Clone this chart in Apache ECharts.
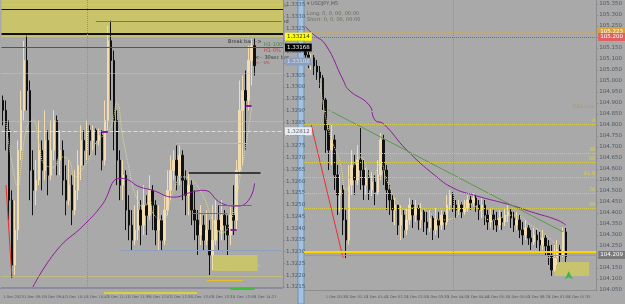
<!DOCTYPE html>
<html>
<head>
<meta charset="utf-8">
<script src="https://cdn.jsdelivr.net/npm/echarts@6/dist/echarts.min.js"></script>
<style>
html, body { margin: 0; padding: 0; background: #a9a9a9; }
#chart { width: 625px; height: 304px; }
</style>
</head>
<body>
<div id="chart"></div>
<script>
// ---- left panel: EURUSD M1 ----
var leftClose = [1.32901,1.32816,1.32519,1.32243,1.32392,1.32731,1.32901,1.33113,1.32985,1.32646,
  1.32561,1.32604,1.32731,1.32646,1.32773,1.32625,1.32731,1.32858,1.32689,1.32731,
  1.32604,1.32519,1.32583,1.32477,1.32561,1.32667,1.32773,1.32731,1.32816,1.32773,
  1.32816,1.32773,1.32795,1.32689,1.32858,1.33197,1.33113,1.32858,1.32689,1.32583,
  1.32625,1.32477,1.32413,1.32349,1.32392,1.32477,1.32413,1.32498,1.32455,1.32561,
  1.32498,1.32392,1.32434,1.32349,1.32477,1.32561,1.32646,1.32689,1.32625,1.32710,
  1.32604,1.32540,1.32583,1.32477,1.32434,1.32371,1.32413,1.32349,1.32392,1.32286,
  1.32349,1.32434,1.32392,1.32455,1.32413,1.32371,1.32455,1.32434,1.32646,1.32901,
  1.32985,1.32943,1.33113,1.33176,1.33091];
var leftHigh = [1.32964,1.32943,1.32858,1.32561,1.32519,1.32773,1.32985,1.33197,1.33219,1.33028,
  1.32731,1.32689,1.32858,1.32773,1.32901,1.32816,1.32858,1.32901,1.32879,1.32816,
  1.32773,1.32667,1.32689,1.32625,1.32646,1.32731,1.32837,1.32816,1.32858,1.32837,
  1.32837,1.32824,1.32824,1.32816,1.32943,1.33261,1.33282,1.33155,1.32901,1.32731,
  1.32689,1.32646,1.32540,1.32477,1.32498,1.32561,1.32519,1.32583,1.32540,1.32625,
  1.32583,1.32519,1.32498,1.32455,1.32540,1.32646,1.32710,1.32731,1.32752,1.32752,
  1.32731,1.32646,1.32638,1.32604,1.32561,1.32477,1.32498,1.32455,1.32477,1.32434,
  1.32498,1.32519,1.32498,1.32519,1.32477,1.32455,1.32498,1.32583,1.32689,1.33028,
  1.33049,1.33070,1.33176,1.33206,1.33206];
var leftLow = [1.32837,1.32731,1.32434,1.32188,1.32201,1.32349,1.32689,1.32858,1.32901,1.32519,
  1.32455,1.32498,1.32583,1.32561,1.32604,1.32540,1.32604,1.32689,1.32625,1.32625,
  1.32540,1.32455,1.32498,1.32413,1.32455,1.32519,1.32604,1.32667,1.32689,1.32710,
  1.32731,1.32710,1.32752,1.32646,1.32667,1.32816,1.32943,1.32731,1.32583,1.32519,
  1.32519,1.32392,1.32349,1.32307,1.32328,1.32349,1.32328,1.32371,1.32371,1.32434,
  1.32392,1.32328,1.32307,1.32307,1.32328,1.32455,1.32519,1.32604,1.32561,1.32583,
  1.32519,1.32455,1.32455,1.32413,1.32349,1.32286,1.32328,1.32307,1.32328,1.32201,
  1.32222,1.32328,1.32307,1.32349,1.32349,1.32286,1.32328,1.32371,1.32392,1.32625,
  1.32667,1.32731,1.32901,1.33007,1.33049];
var leftFirstOpen = 1.32943;
// moving averages, [bar index, price]
var leftMA = [[10,1.32150],[18,1.32307],[27,1.32413],[33,1.32498],[39,1.32612],[42,1.32604],
  [45,1.32579],[50,1.32561],[57,1.32532],[63,1.32553],[67,1.32561],[73,1.32506],
  [78,1.32494],[82,1.32519],[84,1.32591]];
var leftFastMA = [[1,1.32847],[3,1.32677],[5,1.32575],[6,1.32660],[8,1.32830],[10,1.32860],
  [12,1.32762],[14,1.32669],[17,1.32660],[19,1.32703],[22,1.32690],[24,1.32618],[27,1.32660],
  [29,1.32703],[31,1.32762],[33,1.32788],[36,1.32830],[38,1.32932],[40,1.32788],[42,1.32660],
  [44,1.32550],[47,1.32490],[49,1.32520],[50,1.32465],[53,1.32435],[57,1.32562],[60,1.32618],
  [63,1.32605],[67,1.32533],[70,1.32435],[73,1.32380],[77,1.32465],[79,1.32605],[81,1.32745],[83,1.32915]];
var leftRedTrend = [[1,1.32583],[3,1.32188]];
var leftTicks = ['1 Dec 2023','1 Dec 09:19','1 Dec 09:47','1 Dec 10:15','1 Dec 10:43','1 Dec 11:11',
  '1 Dec 11:39','1 Dec 12:07','1 Dec 12:35','1 Dec 13:03','1 Dec 13:31','1 Dec 13:59','1 Dec 14:27','1 Dec 14:55'];
var leftBlackLevels = [1.33329, 1.33227];
var leftDottedLevels = [1.33354, 1.33057, 1.32854, 1.32197];
var leftYellowBoxLevel = 1.33214;
var leftGreyLevel = 1.33168;
var leftBlueMark = 1.33108;
var leftWhiteLevel = 1.32812;
var leftTopBox = [1.33218, 1.3337];
var leftBox = [70, 85, 1.32218, 1.32286];
var leftRedSegs = [[31, 93, 1.33278], [63, 75, 1.32464]];
var leftYellowSegs = [[58, 82, 1.32761], [75, 86, 1.32243], [68, 80, 1.32180]];
var leftBlackSeg = [62, 86, 1.32634];
var leftGreenSeg = [72, 83, 1.32498];
var leftBlueSeg = [39, 93, 1.32307];
var leftPurpleTicks = [[33, 35, 1.32812], [81, 83, 1.32922], [76, 78, 1.32392]];
var leftSessionBars = [[34, 65, 0.4], [76, 84, 1.7]];

// ---- right panel: USDJPY ----
var rightClose = [105.118,105.086,105.105,105.068,105.041,105.014,104.914,104.777,104.686,104.732,
  104.573,104.482,104.505,104.368,104.277,104.527,104.618,104.550,104.641,104.595,
  104.527,104.559,104.505,104.541,104.495,104.573,104.732,104.595,104.505,104.459,
  104.414,104.436,104.345,104.391,104.323,104.368,104.436,104.391,104.423,104.368,
  104.405,104.359,104.332,104.377,104.323,104.368,104.345,104.391,104.359,104.436,
  104.482,104.436,104.414,104.436,104.405,104.423,104.459,104.446,104.468,104.436,
  104.414,104.436,104.391,104.359,104.391,104.368,104.345,104.377,104.359,104.391,
  104.405,104.377,104.345,104.368,104.323,104.300,104.332,104.286,104.268,104.300,
  104.277,104.255,104.286,104.250,104.209,104.141,104.195,104.232,104.209,104.314,104.195];
var rightHigh = [105.141,105.132,105.123,105.118,105.095,105.068,105.027,104.923,104.800,104.800,
  104.755,104.618,104.573,104.527,104.414,104.618,104.686,104.664,104.709,104.786,
  104.641,104.605,104.595,104.586,104.573,104.641,104.764,104.755,104.618,104.527,
  104.482,104.468,104.436,104.436,104.414,104.423,104.468,104.459,104.459,104.436,
  104.446,104.414,104.405,104.414,104.391,104.423,104.405,104.414,104.405,104.482,
  104.505,104.495,104.459,104.459,104.450,104.459,104.482,104.477,104.491,104.482,
  104.459,104.468,104.459,104.414,104.423,104.414,104.405,104.414,104.405,104.423,
  104.436,104.423,104.405,104.405,104.391,104.359,104.368,104.345,104.323,104.332,
  104.323,104.314,104.323,104.300,104.277,104.255,104.255,104.277,104.255,104.336,104.332];
var rightLow = [105.086,105.059,105.050,105.027,105.005,104.968,104.868,104.673,104.595,104.618,
  104.505,104.391,104.405,104.300,104.195,104.255,104.482,104.482,104.527,104.505,
  104.459,104.482,104.459,104.477,104.436,104.482,104.550,104.527,104.414,104.391,
  104.359,104.345,104.300,104.277,104.286,104.300,104.345,104.332,104.359,104.323,
  104.332,104.314,104.300,104.314,104.277,104.300,104.286,104.323,104.323,104.345,
  104.414,104.405,104.377,104.391,104.377,104.391,104.405,104.414,104.432,104.405,
  104.368,104.377,104.345,104.323,104.332,104.323,104.314,104.323,104.323,104.341,
  104.359,104.332,104.314,104.323,104.286,104.255,104.277,104.255,104.232,104.255,
  104.241,104.223,104.232,104.209,104.164,104.114,104.132,104.164,104.177,104.195,104.177];
var rightFirstOpen = 105.132;
var rightMA = [[0,105.246],[3,105.209],[7,105.164],[13,105.005],[15,104.959],[22,104.891],
  [24,104.823],[27,104.805],[35,104.686],[45,104.568],[51,104.514],[58,104.482],
  [72,104.432],[78,104.405],[87,104.368],[90,104.345]];
var rightFastMA = [[5,104.991],[8,104.777],[12,104.627],[14,104.505],[17,104.627],[19,104.654],
  [23,104.564],[26,104.627],[28,104.550],[32,104.445],[35,104.414],[38,104.427],[43,104.400],
  [46,104.368],[52,104.382],[54,104.445],[59,104.427],[64,104.368],[72,104.391],[78,104.345],
  [83,104.300],[87,104.255],[89,104.241]];
var rightGreenTrend = [[8,104.868],[89,104.314]];
var rightRedTrend = [[2,104.800],[13,104.195]];
var rightTicks = ['1 Dec 2023','1 Dec 00:35','1 Dec 01:10','1 Dec 01:45','1 Dec 02:20','1 Dec 02:55',
  '1 Dec 03:30','1 Dec 04:05','1 Dec 04:40','1 Dec 05:15','1 Dec 05:50','1 Dec 06:25','1 Dec 07:00',
  '1 Dec 07:35','1 Dec 08:10'];
var rightTanLevels = [105.223, 104.864];
var rightRedLevel = 105.200;
var rightFibLevels = [104.805, 104.673, 104.632, 104.564, 104.491, 104.423];
var rightFibNames = ['0', '38', '50', '61.8', '76', '88'];
var rightGoldLevel = 104.223;
var rightPinkLevel = 104.209;
var rightBox = [86, 98, 104.114, 104.177];
var rightArrow = [91, 104.135];

(function () {
    var chart = echarts.init(document.getElementById('chart'));
    var FONT = 'DejaVu Sans';
    var leftCats = [], rightCats = [];
    for (var i = 0; i < 94; i++) leftCats.push(String(i));
    for (var j = 0; j < 101; j++) rightCats.push(String(j));

    function ohlc(close, high, low, firstOpen) {
        return close.map(function (c, i) {
            return [i ? close[i - 1] : firstOpen, c, low[i], high[i]];
        });
    }
    function level(v, color, type, width, label) {
        var o = { yAxis: v, lineStyle: { color: color, type: type, width: width }, label: { show: false } };
        if (label) o.label = label;
        return o;
    }
    function seg(s, color, width, type) {
        return [{ coord: [s[0], s[2]], lineStyle: { color: color, width: width, type: type || 'solid' } },
                { coord: [s[1], s[2]] }];
    }
    function axisBox(bg, fg, digits) {
        return { show: true, position: 'end', distance: 2, backgroundColor: bg, color: fg,
                 fontSize: 5.5, fontFamily: FONT, padding: [1, 2],
                 formatter: function (p) { return p.value.toFixed(digits); } };
    }
    function candleStyle() {
        return { color: '#f2dcb0', color0: '#111111', borderColor: '#f2dcb0', borderColor0: '#111111', borderWidth: 1 };
    }
    function timeAxis(idx, ticks) {
        return {
            type: 'category', gridIndex: idx, data: idx === 0 ? leftCats : rightCats, boundaryGap: true,
            axisLine: { lineStyle: { color: '#8d8d8d' } }, axisTick: { show: false },
            axisLabel: { interval: 6, margin: idx === 0 ? 8 : 5, fontSize: 3.6, fontFamily: FONT, color: '#4e5866',
                align: 'left', hideOverlap: false,
                formatter: function (v, k) { return ticks[k / 7] || ''; } },
            splitLine: { show: false }
        };
    }
    function dottedLine(data, xi) {
        return { type: 'line', xAxisIndex: xi, yAxisIndex: xi, data: data, smooth: true, symbol: 'none', z: 4,
                 lineStyle: { color: '#e4dc8c', width: 1, type: 'dotted' } };
    }

    var leftMarkLines = [
        level(leftBlackLevels[0], '#111', 'solid', 1),
        level(leftBlackLevels[1], '#111', 'solid', 2),
        level(leftDottedLevels[0], '#d9cf55', 'dotted', 1),
        level(leftDottedLevels[1], '#d9cf55', 'dotted', 1),
        level(leftDottedLevels[2], '#d9cf55', 'dotted', 1),
        level(leftDottedLevels[3], '#d9cf55', 'dotted', 1),
        level(leftYellowBoxLevel, '#e8e050', 'dotted', 1, axisBox('#ffff00', '#333', 5)),
        level(leftGreyLevel, '#555', 'solid', 1, axisBox('#000', '#fff', 5)),
        level(leftBlueMark, 'rgba(0,0,0,0)', 'solid', 0, axisBox('#8aa0bc', '#dde', 5)),
        level(leftWhiteLevel, '#dcdcdc', 'dashed', 1, axisBox('#e8ecf2', '#667', 5)),
        seg(leftRedSegs[0], '#e0483c', 1),
        seg(leftRedSegs[1], '#e0483c', 1),
        seg(leftYellowSegs[0], '#e6c020', 1),
        seg(leftYellowSegs[1], '#e6c020', 1),
        seg(leftYellowSegs[2], '#e6c020', 1),
        seg(leftBlackSeg, '#3a3a3a', 2),
        seg(leftGreenSeg, '#2e9a3a', 1),
        seg(leftBlueSeg, '#8f9fc0', 1)
    ];
    leftPurpleTicks.forEach(function (p) { leftMarkLines.push(seg(p, '#8a1a96', 2)); });

    var rightMarkLines = [
        level(rightTanLevels[0], '#c8a86a', 'dashed', 1, axisBox('#d8a23c', '#fff', 3)),
        level(rightTanLevels[1], '#c8a86a', 'dashed', 1, { show: true, position: 'insideEndTop', distance: 2,
            formatter: 'D61 Low', color: '#b89850', fontSize: 5, fontFamily: FONT }),
        level(rightRedLevel, '#e04040', 'dotted', 1, axisBox('#e06060', '#fff', 3)),
        level(rightGoldLevel, '#ffd400', 'solid', 2),
        level(rightPinkLevel, '#d88080', 'solid', 1, axisBox('#7a7a7a', '#fff', 3)),
        level(rightPinkLevel - 0.01, '#c8a0a0', 'dotted', 1),
        { xAxis: 51, lineStyle: { color: '#909090', type: 'dotted', width: 1 }, label: { show: false } }
    ];
    rightFibLevels.forEach(function (v, k) {
        rightMarkLines.push(level(v, '#d6cc50', 'dotted', 1, { show: true, position: 'insideEndTop', distance: 1,
            formatter: rightFibNames[k], color: '#d8d050', fontSize: 5, fontFamily: FONT }));
    });

    var option = {
        animation: false,
        backgroundColor: '#a9a9a9',
        grid: [
            { left: 0, top: 0, width: 283, height: 287, show: false },
            { left: 304, top: 0, width: 304, height: 290, show: false },
            { left: 0, top: 288, width: 283, height: 6, show: false }
        ],
        xAxis: [
            timeAxis(0, leftTicks),
            timeAxis(1, rightTicks),
            { type: 'category', gridIndex: 2, data: leftCats, show: false, boundaryGap: true }
        ],
        yAxis: [
            { type: 'value', gridIndex: 0, position: 'right', min: 1.3215, max: 1.3337, interval: 0.0005,
              axisLine: { show: true, lineStyle: { color: '#8d8d8d' } }, axisTick: { show: true, length: 2, lineStyle: { color: '#8d8d8d' } },
              splitLine: { show: false },
              axisLabel: { showMaxLabel: false, margin: 3, fontSize: 5.5, fontFamily: FONT, color: '#4e5866',
                           formatter: function (v) { return v.toFixed(4); } } },
            { type: 'value', gridIndex: 1, position: 'right', min: 104.05, max: 105.368, interval: 0.05,
              axisLine: { show: true, lineStyle: { color: '#8d8d8d' } }, axisTick: { show: true, length: 2, lineStyle: { color: '#8d8d8d' } },
              splitLine: { show: false },
              axisLabel: { showMaxLabel: false, margin: 3, fontSize: 5.5, fontFamily: FONT, color: '#4e5866',
                           formatter: function (v) { return v.toFixed(3); } } },
            { type: 'value', gridIndex: 2, min: 0, max: 2, show: false }
        ],
        series: [
            {
                type: 'candlestick', xAxisIndex: 0, yAxisIndex: 0, barWidth: 2, z: 3,
                data: ohlc(leftClose, leftHigh, leftLow, leftFirstOpen),
                itemStyle: candleStyle(),
                markArea: { silent: true, precision: 5, data: [
                    [{ yAxis: leftTopBox[0], itemStyle: { color: '#c9c46c' } }, { yAxis: leftTopBox[1] }],
                    [{ coord: [leftBox[0], leftBox[2]], itemStyle: { color: 'rgba(222,214,70,0.6)' } }, { coord: [leftBox[1], leftBox[3]] }]
                ] },
                markLine: { silent: true, symbol: 'none', precision: 5, data: leftMarkLines.concat([
                    { xAxis: 28, lineStyle: { color: '#909090', type: 'dotted', width: 1 }, label: { show: false } }
                ]) }
            },
            dottedLine(leftFastMA, 0),
            { type: 'line', xAxisIndex: 0, yAxisIndex: 0, data: leftMA, smooth: true, symbol: 'none', z: 4,
              lineStyle: { color: '#8d1c9a', width: 1 } },
            { type: 'line', xAxisIndex: 0, yAxisIndex: 0, data: leftRedTrend, symbol: 'none', z: 4,
              lineStyle: { color: '#e8302c', width: 1 } },
            {
                type: 'candlestick', xAxisIndex: 1, yAxisIndex: 1, barWidth: 2, z: 3,
                data: ohlc(rightClose, rightHigh, rightLow, rightFirstOpen),
                itemStyle: candleStyle(),
                markArea: { silent: true, precision: 3, data: [
                    [{ coord: [rightBox[0], rightBox[2]], itemStyle: { color: 'rgba(222,214,70,0.6)' } }, { coord: [rightBox[1], rightBox[3]] }]
                ] },
                markLine: { silent: true, symbol: 'none', precision: 3, data: rightMarkLines },
                markPoint: { silent: true, precision: 3, data: [{ coord: rightArrow, symbol: 'arrow', symbolSize: [6, 8],
                    itemStyle: { color: '#3cb84a' }, label: { show: false } }] }
            },
            dottedLine(rightFastMA, 1),
            { type: 'line', xAxisIndex: 1, yAxisIndex: 1, data: rightMA, smooth: true, symbol: 'none', z: 4,
              lineStyle: { color: '#8d1c9a', width: 1 } },
            { type: 'line', xAxisIndex: 1, yAxisIndex: 1, data: rightGreenTrend, symbol: 'none', z: 4,
              lineStyle: { color: '#5a9a4a', width: 1 } },
            { type: 'line', xAxisIndex: 1, yAxisIndex: 1, data: rightRedTrend, symbol: 'none', z: 4,
              lineStyle: { color: '#e8302c', width: 1 } },
            { type: 'line', xAxisIndex: 2, yAxisIndex: 2, data: [], symbol: 'none',
              markLine: { silent: true, symbol: 'none', precision: 2, data: [
                  seg(leftSessionBars[0], '#d8d040', 2),
                  seg(leftSessionBars[1], '#3cc03c', 2)
              ] } }
        ],
        graphic: [
            { type: 'rect', shape: { x: 298, y: 0, width: 6, height: 304 }, style: { fill: '#a3c2e3', stroke: '#6f8fb0', lineWidth: 1 } },
            { type: 'line', shape: { x1: 0, y1: 288.5, x2: 283, y2: 288.5 }, style: { stroke: '#8d8d9d', lineWidth: 1 } },
            { type: 'text', x: 3, y: 1, style: { text: '\u25be EURUSD,M1', fontSize: 5, fontFamily: FONT, fill: '#5a5a5a' } },
            { type: 'text', x: 3, y: 10, style: { text: 'Long: 0, 0, 00, 00:00', fontSize: 5, fontFamily: FONT, fill: '#6a6a5a' } },
            { type: 'text', x: 3, y: 16, style: { text: 'Short: 0.0000, 0.000, 0.0.0.0:00', fontSize: 5, fontFamily: FONT, fill: '#6a6a5a' } },
            { type: 'text', x: 264, y: 3, style: { text: 'H1-100%', fontSize: 5, fontFamily: FONT, fill: '#3e8a3e' } },
            { type: 'text', x: 252, y: 19, style: { text: '<-- quick fixed', fontSize: 5, fontFamily: FONT, fill: '#333' } },
            { type: 'text', x: 202, y: 27, style: { text: 'very quick move at top -->', fontSize: 5, fontFamily: FONT, fill: '#222' } },
            { type: 'text', x: 228, y: 39, style: { text: 'Break bar -->', fontSize: 5, fontFamily: FONT, fill: '#333' } },
            { type: 'text', x: 264, y: 42, style: { text: 'H1-100%', fontSize: 5, fontFamily: FONT, fill: '#3e8a3e' } },
            { type: 'text', x: 264, y: 48, style: { text: 'H1-0%', fontSize: 5, fontFamily: FONT, fill: '#e03030' } },
            { type: 'text', x: 255, y: 55, style: { text: '<-- 30sec bar', fontSize: 5, fontFamily: FONT, fill: '#333' } },
            { type: 'text', x: 256, y: 61, style: { text: '<-- 0%', fontSize: 4, fontFamily: FONT, fill: '#e03030' } },
            { type: 'text', x: 307, y: 1, style: { text: '\u25be USDJPY,M5', fontSize: 5, fontFamily: FONT, fill: '#5a5a5a' } },
            { type: 'text', x: 307, y: 11, style: { text: 'Long: 0, 0, 00, 00:00', fontSize: 5, fontFamily: FONT, fill: '#6a6a5a' } },
            { type: 'text', x: 307, y: 17, style: { text: 'Short: 0, 0, 00, 00:00', fontSize: 5, fontFamily: FONT, fill: '#6a6a5a' } }
        ]
    };
    chart.setOption(option);
})();
</script>
</body>
</html>
